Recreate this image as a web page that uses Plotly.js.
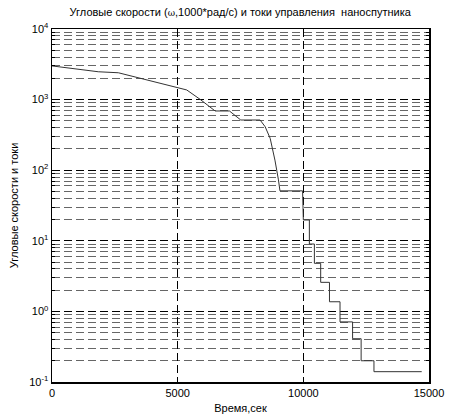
<!DOCTYPE html>
<html>
<head>
<meta charset="utf-8">
<script src="https://cdn.plot.ly/plotly-3.0.1.min.js"></script>
<style>html,body{margin:0;padding:0;background:#fff;}#chart{width:449px;height:419px;}</style>
</head>
<body>
<div id="chart"></div>
<script>
// Time, seconds
var timeSec = [0, 1840, 2640, 5360, 5890, 6490, 7060, 7510, 8280, 8480, 8680, 8870, 9010, 9070,
  9970, 10000, 10240, 10240, 10440, 10440, 10690, 10690, 11040, 11040, 11460, 11460,
  11960, 11960, 12300, 12300, 12810, 12810, 14710];
// Angular speeds and control currents
var values = [3000, 2480, 2400, 1370, 1010, 690, 690, 514, 514, 413, 283, 139, 73, 51,
  51, 19.7, 19.7, 9.0, 9.0, 4.8, 4.8, 2.58, 2.58, 1.37, 1.37, 0.71,
  0.71, 0.41, 0.41, 0.20, 0.20, 0.14, 0.14];

var yMajorVals = [0.1, 1, 10, 100, 1000, 10000];
var yMajorText = ['10<sup>-1</sup>', '10<sup>0</sup>', '10<sup>1</sup>', '10<sup>2</sup>', '10<sup>3</sup>', '10<sup>4</sup>'];
var yMinorVals = [];
[0.1, 1, 10, 100, 1000].forEach(function (d) { for (var k = 2; k <= 9; k++) yMinorVals.push(d * k); });
var xTickVals = [0, 5000, 10000, 15000];

var font = 'Liberation Sans, Arial, sans-serif';

Plotly.newPlot('chart', [{
  x: timeSec, y: values, type: 'scatter', mode: 'lines',
  line: {color: '#333333', width: 1}, hoverinfo: 'skip'
}], {
  width: 449, height: 419,
  margin: {l: 52, r: 20, t: 29, b: 37},
  paper_bgcolor: '#fff', plot_bgcolor: '#fff',
  showlegend: false,
  title: {
    text: 'Угловые скорости (<span style="font-family:DejaVu Serif;font-size:9px">ω</span>,1000*рад/с) и токи управления  наноспутника',
    font: {family: font, size: 11, color: '#000'},
    x: 0.535, xanchor: 'center', y: 0.972, yanchor: 'middle'
  },
  xaxis: {
    range: [0, 15000], tickmode: 'array', tickvals: xTickVals, ticktext: ['0', '5000', '10000', '15000'],
    showgrid: true, gridcolor: '#000', gridwidth: 1, griddash: '8px,4px',
    ticks: 'inside', ticklen: 5, tickcolor: '#000', mirror: 'ticks',
    showline: true, linecolor: '#000', linewidth: 1.5, zeroline: false,
    tickfont: {family: font, size: 11, color: '#000'},
    title: {text: 'Время,сек', font: {family: font, size: 11, color: '#000'}, standoff: 6}
  },
  yaxis: {
    type: 'log', range: [-1, 4], tickmode: 'array', tickvals: yMajorVals, ticktext: yMajorText,
    showgrid: true, gridcolor: '#000', gridwidth: 1, griddash: '8px,4px',
    ticks: 'inside', ticklen: 5, tickcolor: '#000', mirror: 'ticks',
    showline: true, linecolor: '#000', linewidth: 1.5, zeroline: false,
    tickfont: {family: font, size: 11, color: '#000'},
    minor: {tickmode: 'array', tickvals: yMinorVals, ticks: 'inside', ticklen: 3, tickcolor: '#000',
      showgrid: true, gridcolor: '#666', gridwidth: 1, griddash: '8px,4px'},
    title: {text: 'Угловые скорости и токи', font: {family: font, size: 11, color: '#000'}, standoff: 8}
  }
}, {displayModeBar: false, staticPlot: true});
</script>
</body>
</html>
